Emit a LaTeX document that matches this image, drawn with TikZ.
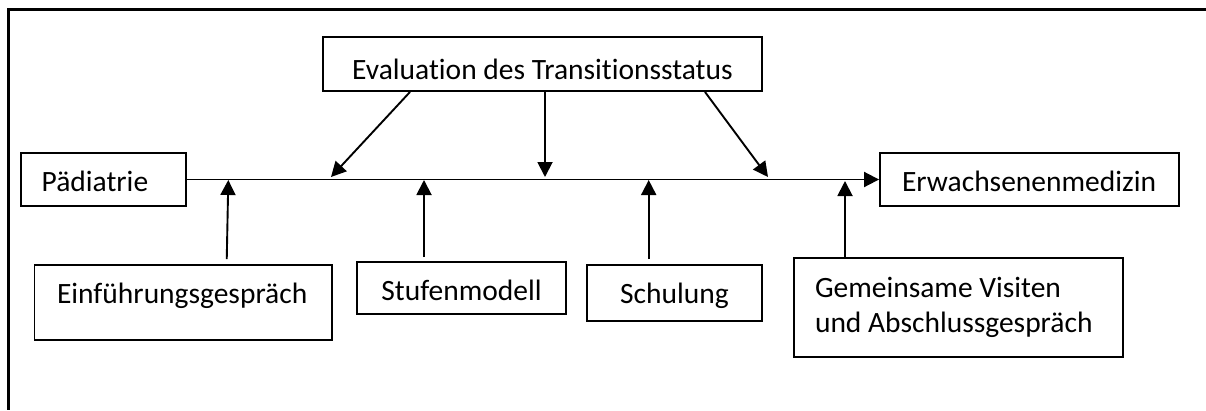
\documentclass[tikz,border=0pt]{standalone}
\usepackage{fontspec}
\setmainfont{Carlito}[Ligatures={NoCommon}]
\usetikzlibrary{arrows.meta}
\begin{document}
\begin{tikzpicture}[x=1pt,y=-1pt,
  box/.style={draw, line width=1.9pt, rectangle, inner ysep=0pt, inner xsep=0pt,
    font=\fontsize{29.5}{35}\selectfont},
  arr/.style={line width=1.9pt, -{Triangle[length=15pt,width=15pt]}},
  frame/.style={line width=2.2pt}]
\useasboundingbox (0,0) rectangle (1206,410);
\draw[frame] (1206,9.5) -- (8.5,9.5) -- (8.5,410);

\node[box, minimum width=165pt, minimum height=53pt, text width=123.6pt, inner xsep=20.7pt,
  align=flush left, text height=30pt, text depth=5.6pt] (pad) at (103.5,179.5) {Pädiatrie};
\node[box, minimum width=299pt, minimum height=53pt, text width=255pt, inner xsep=22pt,
  align=flush left, text height=30pt, text depth=5.6pt] (erw) at (1029.5,179.5) {Erwachsenenmedizin};
\node[box, minimum width=439pt, minimum height=54pt, align=center,
  text height=34pt, text depth=2.4pt] (eval) at (542.5,64) {Evaluation des Transitionsstatus};
\node[box, minimum width=297.5pt, minimum height=75pt, text width=252.5pt, inner xsep=22.5pt,
  align=flush left, text height=25pt, text depth=23.4pt] (ein) at (183.25,302.5) {Einführungsgespräch};
\node[box, minimum width=209pt, minimum height=52pt, align=center,
  text height=30pt, text depth=6pt] (stu) at (461.5,288) {Stufenmodell};
\node[box, minimum width=175pt, minimum height=56pt, align=center,
  text height=28pt, text depth=7.4pt] (sch) at (674.5,293) {Schulung};
\node[box, minimum width=329pt, minimum height=99pt, text width=287pt, inner xsep=21pt,
  align=flush left] (gem) at (958.5,307.5) {Gemeinsame Visiten\\und Abschlussgespräch};

% points on the main line
\coordinate (d1) at (331,177);
\coordinate (d2) at (545,177);
\coordinate (d3) at (768,177);
\coordinate (u1) at (228.3,180);
\coordinate (u2) at (424,180);
\coordinate (u3) at (648.7,180);
\coordinate (u4) at (845,181);

\draw[arr] (pad.east) -- (erw.west);

\draw[arr] ([xshift=-132.5pt]eval.south) -- (d1);
\draw[arr] ([xshift=2.5pt]eval.south) -- (d2);
\draw[arr] ([xshift=162.5pt]eval.south) -- (d3);

\draw[arr] ([xshift=43.5pt,yshift=5pt]ein.north) -- (u1);
\draw[arr] ([xshift=-37.5pt,yshift=4pt]stu.north) -- (u2);
\draw[arr] ([xshift=-25.8pt,yshift=5pt]sch.north) -- (u3);
\draw[arr] ([xshift=-113.5pt]gem.north) -- (u4);
\end{tikzpicture}
\end{document}
